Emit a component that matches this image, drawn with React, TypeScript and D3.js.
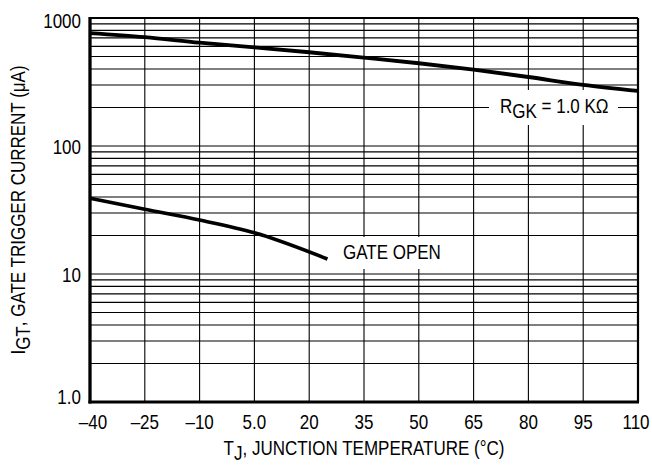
import * as d3 from 'd3';
import type { ReactNode } from 'react';

// Gate trigger current vs junction temperature, two curves on a log axis.
const WIDTH = 652;
const HEIGHT = 474;
const PLOT = { left: 90, right: 638, top: 18, bottom: 402 } as const;
const FONT = 'Liberation Sans, Arial, Helvetica, sans-serif';
const FONT_SIZE = 20;
const NARROW = 0.85; // the original uses a condensed face

const TEMP_TICKS = [-40, -25, -10, 5, 20, 35, 50, 65, 80, 95, 110];
const TEMP_LABELS = ['–40', '–25', '–10', '5.0', '20', '35', '50', '65', '80', '95', '110'];
const CURRENT_TICKS = [1, 10, 100, 1000];
const CURRENT_LABELS = ['1.0', '10', '100', '1000'];

// R_GK = 1.0 kOhm curve (µA)
const RGK_TEMPS = [-40, -25, -10, 5, 20, 35, 50, 65, 80, 95, 110];
const RGK_CURRENT = [763, 708, 641, 590, 540, 490, 443, 395, 346, 300, 269];

// Gate open curve (µA)
const OPEN_TEMPS = [-40, -25, -10, 5, 25];
const OPEN_CURRENT = [39, 32, 26.4, 21, 13.1];

type Pt = { t: number; i: number };

function Label({
  x,
  y,
  anchor = 'start',
  rotate = false,
  dy,
  children,
}: {
  x: number;
  y: number;
  anchor?: 'start' | 'middle' | 'end';
  rotate?: boolean;
  dy?: string;
  children: ReactNode;
}) {
  return (
    <g transform={`translate(${x}, ${y})${rotate ? ' rotate(-90)' : ''} scale(${NARROW}, 1)`}>
      <text textAnchor={anchor} dy={dy} fontSize={FONT_SIZE} fill="#000">
        {children}
      </text>
    </g>
  );
}

export default function App() {
  const x = d3.scaleLinear().domain([-40, 110]).range([PLOT.left, PLOT.right]);
  const y = d3.scaleLog().domain([1, 1000]).range([PLOT.bottom, PLOT.top]);

  // log grid: 2..10 in each decade
  const gridValues: number[] = [];
  [1, 10, 100].forEach((d) => {
    for (let m = 2; m <= 10; m++) gridValues.push(d * m);
  });
  const innerGrid = gridValues.filter((v) => v < 1000);

  const line = d3
    .line<Pt>()
    .x((p) => x(p.t))
    .y((p) => y(p.i))
    .curve(d3.curveMonotoneX);

  const rgk: Pt[] = RGK_TEMPS.map((t, k) => ({ t, i: RGK_CURRENT[k] }));
  const open: Pt[] = OPEN_TEMPS.map((t, k) => ({ t, i: OPEN_CURRENT[k] }));

  const yLabelOffset = (v: number) => (v === 1000 ? 3 : v === 1 ? -5 : 1);
  const xLabelOffset = (k: number) => (k === 0 ? 3 : k === TEMP_TICKS.length - 1 ? -2 : 0);

  return (
    <svg
      width={WIDTH}
      height={HEIGHT}
      viewBox={`0 0 ${WIDTH} ${HEIGHT}`}
      style={{ position: 'absolute', left: 0, top: 0, background: '#fff' }}
      fontFamily={FONT}
    >
      <rect x={0} y={0} width={WIDTH} height={HEIGHT} fill="#fff" />

      {/* grid */}
      <g stroke="#000" strokeWidth={1.1}>
        {innerGrid.map((v) => (
          <line key={`h${v}`} x1={PLOT.left} x2={PLOT.right} y1={y(v)} y2={y(v)} />
        ))}
        {TEMP_TICKS.slice(1, -1).map((t) => (
          <line key={`v${t}`} x1={x(t)} x2={x(t)} y1={PLOT.top} y2={PLOT.bottom} />
        ))}
      </g>

      {/* label knock-outs */}
      <rect x={489} y={90} width={129} height={35} fill="#fff" />
      <rect x={339} y={237} width={124} height={32} fill="#fff" />

      {/* frame */}
      <line x1={PLOT.left} x2={PLOT.right} y1={PLOT.top} y2={PLOT.top} stroke="#000" strokeWidth={2} />
      <line x1={PLOT.right} x2={PLOT.right} y1={PLOT.top} y2={PLOT.bottom} stroke="#000" strokeWidth={2.2} />
      <line x1={PLOT.left - 1.5} x2={PLOT.right + 1} y1={PLOT.bottom} y2={PLOT.bottom} stroke="#000" strokeWidth={3} />
      <line x1={PLOT.left} x2={PLOT.left} y1={PLOT.top - 1} y2={PLOT.bottom + 1.5} stroke="#000" strokeWidth={3.3} />

      {/* curves */}
      <path d={line(rgk) ?? ''} fill="none" stroke="#000" strokeWidth={3.8} />
      <path d={line(open) ?? ''} fill="none" stroke="#000" strokeWidth={3.6} />

      {/* curve labels */}
      <Label x={500} y={113}>
        R<tspan dy={5}>GK</tspan>
        <tspan dy={-5}> = 1.0 KΩ</tspan>
      </Label>
      <Label x={343} y={259}>
        GATE OPEN
      </Label>

      {/* y tick labels */}
      {CURRENT_TICKS.map((v, k) => (
        <Label key={`yl${v}`} x={81} y={y(v) + yLabelOffset(v)} dy="0.35em" anchor="end">
          {CURRENT_LABELS[k]}
        </Label>
      ))}

      {/* x tick labels */}
      {TEMP_TICKS.map((t, k) => (
        <Label key={`xl${t}`} x={x(t) + xLabelOffset(k)} y={429} anchor="middle">
          {TEMP_LABELS[k]}
        </Label>
      ))}

      {/* axis titles */}
      <Label x={(PLOT.left + PLOT.right) / 2} y={455} anchor="middle">
        T<tspan dy={5}>J</tspan>
        <tspan dy={-5}>, JUNCTION TEMPERATURE (°C)</tspan>
      </Label>
      <Label x={25} y={(PLOT.top + PLOT.bottom) / 2} anchor="middle" rotate>
        I<tspan dy={5}>GT</tspan>
        <tspan dy={-5}>, GATE TRIGGER CURRENT (μA)</tspan>
      </Label>
    </svg>
  );
}
